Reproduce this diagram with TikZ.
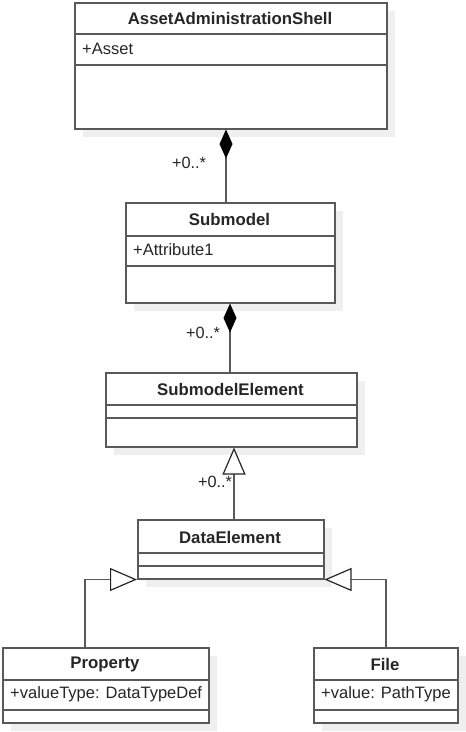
\documentclass[tikz,border=0pt]{standalone}
\usepackage{fontspec}
\setmainfont{Liberation Sans}
\usetikzlibrary{arrows.meta,shadows}
\definecolor{linec}{HTML}{595959}
\definecolor{textc}{HTML}{262626}
\definecolor{shadc}{HTML}{EFEFEF}
\begin{document}
\begin{tikzpicture}[x=1pt,y=-1pt,
  cls/.style={draw=linec, line width=1.5pt, fill=white, anchor=north west, inner sep=0pt,
    general shadow={fill=shadc, shadow xshift=8pt, shadow yshift=-8pt}},
  sep/.style={draw=linec, line width=1.5pt},
  title/.style={font=\fontsize{16.8}{19}\selectfont\bfseries, text=textc, inner sep=0pt},
  attr/.style={font=\fontsize{16.5}{19}\selectfont, text=textc, inner sep=0pt, anchor=west},
  mult/.style={font=\fontsize{16.3}{19}\selectfont, text=textc, inner sep=0pt},
  conn/.style={draw=linec, line width=1.5pt},
  comp/.style={{Diamond[length=29pt,width=13pt,fill=black,color=black]}-},
  gen/.style={-{Triangle[open,length=27pt,width=23pt,fill=white,color=textc,line width=1.2pt]}}
]
\useasboundingbox (0,0) rectangle (466,732);

% AssetAdministrationShell
\node[cls, minimum width=312pt, minimum height=126pt] (aas) at (74,2) {};
\node[title] (aast) at (230,18) {AssetAdministrationShell};
\draw[sep] (aas.west |- 0,34) -- (aas.east |- 0,34);
\draw[sep] (aas.west |- 0,65) -- (aas.east |- 0,65);
\node[attr] (aasa) at (82,49) {+Asset};

% Submodel
\node[cls, minimum width=209pt, minimum height=100pt] (sub) at (125,202) {};
\node[title] (subt) at (229.5,219) {Submodel};
\draw[sep] (sub.west |- 0,236) -- (sub.east |- 0,236);
\draw[sep] (sub.west |- 0,266) -- (sub.east |- 0,266);
\node[attr] (suba) at (133,250) {+Attribute1};

% SubmodelElement
\node[cls, minimum width=251pt, minimum height=74pt] (sme) at (105,372) {};
\node[title] (smet) at (230.5,389) {SubmodelElement};
\draw[sep] (sme.west |- 0,405) -- (sme.east |- 0,405);
\draw[sep] (sme.west |- 0,418) -- (sme.east |- 0,418);

% DataElement
\node[cls, minimum width=186pt, minimum height=59pt] (de) at (137,519) {};
\node[title] (det) at (230,537) {DataElement};
\draw[sep] (de.west |- 0,553) -- (de.east |- 0,553);
\draw[sep] (de.west |- 0,566) -- (de.east |- 0,566);

% Property
\node[cls, minimum width=206pt, minimum height=75pt] (prop) at (2,647) {};
\node[title] (propt) at (105,664) {Property};
\draw[sep] (prop.west |- 0,680) -- (prop.east |- 0,680);
\draw[sep] (prop.west |- 0,710) -- (prop.east |- 0,710);
\node[attr] (propa) at (10,694) {+valueType: DataTypeDef};

% File
\node[cls, minimum width=144pt, minimum height=75pt] (file) at (313,647) {};
\node[title] (filet) at (385,664) {File};
\draw[sep] (file.west |- 0,680) -- (file.east |- 0,680);
\draw[sep] (file.west |- 0,710) -- (file.east |- 0,710);
\node[attr] (filea) at (321,694) {+value: PathType};

% connectors
\draw[conn, comp] (aas.south -| 226,0) -- (sub.north -| 226,0);
\node[mult] (m1) at (189,163) {+0..*};

\draw[conn, comp] (sub.south -| 230,0) -- (sme.north -| 230,0);
\node[mult] (m2) at (203,333) {+0..*};

\draw[conn, gen] (de.north -| 234,0) -- (sme.south -| 234,0);
\node[mult] (m3) at (215,482) {+0..*};

\draw[conn, gen] (prop.north -| 85,0) |- (de.south west);
\draw[conn, gen] (file.north -| 386,0) |- (de.south east);
\end{tikzpicture}
\end{document}
